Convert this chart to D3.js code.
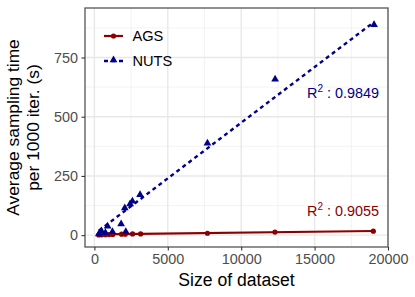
<!DOCTYPE html>
<html>
<head>
<meta charset="utf-8">
<script src="https://cdn.jsdelivr.net/npm/d3@7"></script>
<style>
  body { margin: 0; background: #fff; }
  text { font-family: "Liberation Sans", Arial, sans-serif; }
</style>
</head>
<body>
<svg width="415" height="297"></svg>
<script>
// data
var agsSize = [300, 500, 750, 1000, 1250, 1850, 2100, 2600, 3150, 7700, 12300, 19000];
var agsTime = [1, 1.5, 2, 2.5, 3, 4, 4, 5, 5, 8, 13, 17];
var nutsSize = [300, 480, 750, 900, 1230, 1820, 2070, 2140, 2430, 2590, 3110, 7700, 12310, 19050];
var nutsTime = [5, 18, 10, 38, 14, 47, 115, 14, 132, 143, 171, 388, 658, 888];
// fitted lines (endpoints)
var agsFitSize = [300, 19000];
var agsFitTime = [3, 17.5];
var nutsFitSize = [300, 19050];
var nutsFitTime = [19, 900];
var xTicks = [0, 5000, 10000, 15000, 20000];
var yTicks = [0, 250, 500, 750];
var r2Labels = ["0.9055", "0.9849"];

function pairs(xs, ys) { return xs.map(function(d, i) { return {x: d, y: ys[i]}; }); }
var ags = pairs(agsSize, agsTime);
var nuts = pairs(nutsSize, nutsTime);

var pLeft = 85, pRight = 388, pTop = 8, pBottom = 247;

var svg = d3.select("svg");

var xScale = d3.scaleLinear().domain([-640, 20000]).range([pLeft, pRight]);
var yScale = d3.scaleLinear().domain([-50, 959]).range([pBottom, pTop]);

// panel grid
var grid = svg.append("g");
var xMinor = [2500, 7500, 12500, 17500];
var yMinor = [125, 375, 625, 875];
grid.selectAll(".xm").data(xMinor).enter().append("line")
    .attr("x1", d => xScale(d)).attr("x2", d => xScale(d))
    .attr("y1", pTop).attr("y2", pBottom)
    .attr("stroke", "#f0f0f0").attr("stroke-width", 0.8);
grid.selectAll(".ym").data(yMinor).enter().append("line")
    .attr("y1", d => yScale(d)).attr("y2", d => yScale(d))
    .attr("x1", pLeft).attr("x2", pRight)
    .attr("stroke", "#f0f0f0").attr("stroke-width", 0.8);
grid.selectAll(".xg").data(xTicks).enter().append("line")
    .attr("x1", d => xScale(d)).attr("x2", d => xScale(d))
    .attr("y1", pTop).attr("y2", pBottom)
    .attr("stroke", "#e8e8e8").attr("stroke-width", 1.4);
grid.selectAll(".yg").data(yTicks).enter().append("line")
    .attr("y1", d => yScale(d)).attr("y2", d => yScale(d))
    .attr("x1", pLeft).attr("x2", pRight)
    .attr("stroke", "#e8e8e8").attr("stroke-width", 1.4);

var line = d3.line().x(d => xScale(d.x)).y(d => yScale(d.y));

svg.append("path").datum(pairs(agsFitSize, agsFitTime))
    .attr("d", line).attr("fill", "none")
    .attr("stroke", "#8b0000").attr("stroke-width", 2.2);

svg.append("path").datum(pairs(nutsFitSize, nutsFitTime))
    .attr("d", line).attr("fill", "none")
    .attr("stroke", "#00008b").attr("stroke-width", 2.4)
    .attr("stroke-dasharray", "4,3.5");

svg.selectAll(".ags").data(ags).enter().append("circle")
    .attr("cx", d => xScale(d.x)).attr("cy", d => yScale(d.y))
    .attr("r", 2.6).attr("fill", "#8b0000");

var tri = d3.symbol().type(d3.symbolTriangle).size(26);
svg.selectAll(".nuts").data(nuts).enter().append("path")
    .attr("d", tri)
    .attr("transform", d => "translate(" + xScale(d.x) + "," + yScale(d.y) + ")")
    .attr("fill", "#00008b");

// panel border
svg.append("rect")
    .attr("x", pLeft).attr("y", pTop)
    .attr("width", pRight - pLeft).attr("height", pBottom - pTop)
    .attr("fill", "none").attr("stroke", "#555").attr("stroke-width", 1.3);

// axes
var xAxis = svg.append("g")
    .attr("transform", "translate(0," + pBottom + ")")
    .call(d3.axisBottom(xScale).tickValues(xTicks).tickSize(3.5).tickPadding(3).tickFormat(d3.format("d")));
var yAxis = svg.append("g")
    .attr("transform", "translate(" + pLeft + ",0)")
    .call(d3.axisLeft(yScale).tickValues(yTicks).tickSize(3.5).tickPadding(3.5).tickFormat(d3.format("d")));
[xAxis, yAxis].forEach(function(ax) {
    ax.select(".domain").remove();
    ax.selectAll("line").attr("stroke", "#333").attr("stroke-width", 1.1);
    ax.selectAll("text").attr("fill", "#4d4d4d")
        .style("font-size", "14.4px")
        .style("font-family", "'Liberation Sans', Arial, sans-serif");
});

// axis titles
svg.append("text")
    .attr("x", (pLeft + pRight) / 2).attr("y", 286)
    .attr("text-anchor", "middle")
    .style("font-size", "17.6px")
    .text("Size of dataset");

var yt = svg.append("text")
    .attr("transform", "translate(19," + ((pTop + pBottom) / 2) + ") rotate(-90)")
    .attr("text-anchor", "middle")
    .style("font-size", "17.4px");
yt.append("tspan").attr("x", 0).attr("y", 0).text("Average sampling time");
yt.append("tspan").attr("x", 0).attr("y", 20).text("per 1000 iter. (s)");

// R^2 labels
function r2(x, y, color, val) {
    var t = svg.append("text")
        .attr("x", x).attr("y", y)
        .attr("text-anchor", "end")
        .attr("fill", color)
        .style("font-size", "14.4px");
    t.append("tspan").text("R");
    t.append("tspan").attr("dy", -6).style("font-size", "10px").text("2");
    t.append("tspan").attr("dy", 6).text(" : " + val);
}
r2(379, 216, "#8b0000", r2Labels[0]);
r2(379, 98, "#00008b", r2Labels[1]);

// legend
var lg = svg.append("g");
lg.append("line").attr("x1", 104).attr("x2", 123).attr("y1", 36).attr("y2", 36)
    .attr("stroke", "#8b0000").attr("stroke-width", 2.2);
lg.append("circle").attr("cx", 113.5).attr("cy", 36).attr("r", 2.6).attr("fill", "#8b0000");
lg.append("text").attr("x", 132.5).attr("y", 41).style("font-size", "14.6px").text("AGS");

lg.append("line").attr("x1", 104).attr("x2", 123).attr("y1", 61).attr("y2", 61)
    .attr("stroke", "#00008b").attr("stroke-width", 2.4).attr("stroke-dasharray", "4,3.5");
lg.append("path").attr("d", tri).attr("transform", "translate(113.5,60)").attr("fill", "#00008b");
lg.append("text").attr("x", 132.5).attr("y", 66).style("font-size", "14.6px").text("NUTS");
</script>
</body>
</html>
